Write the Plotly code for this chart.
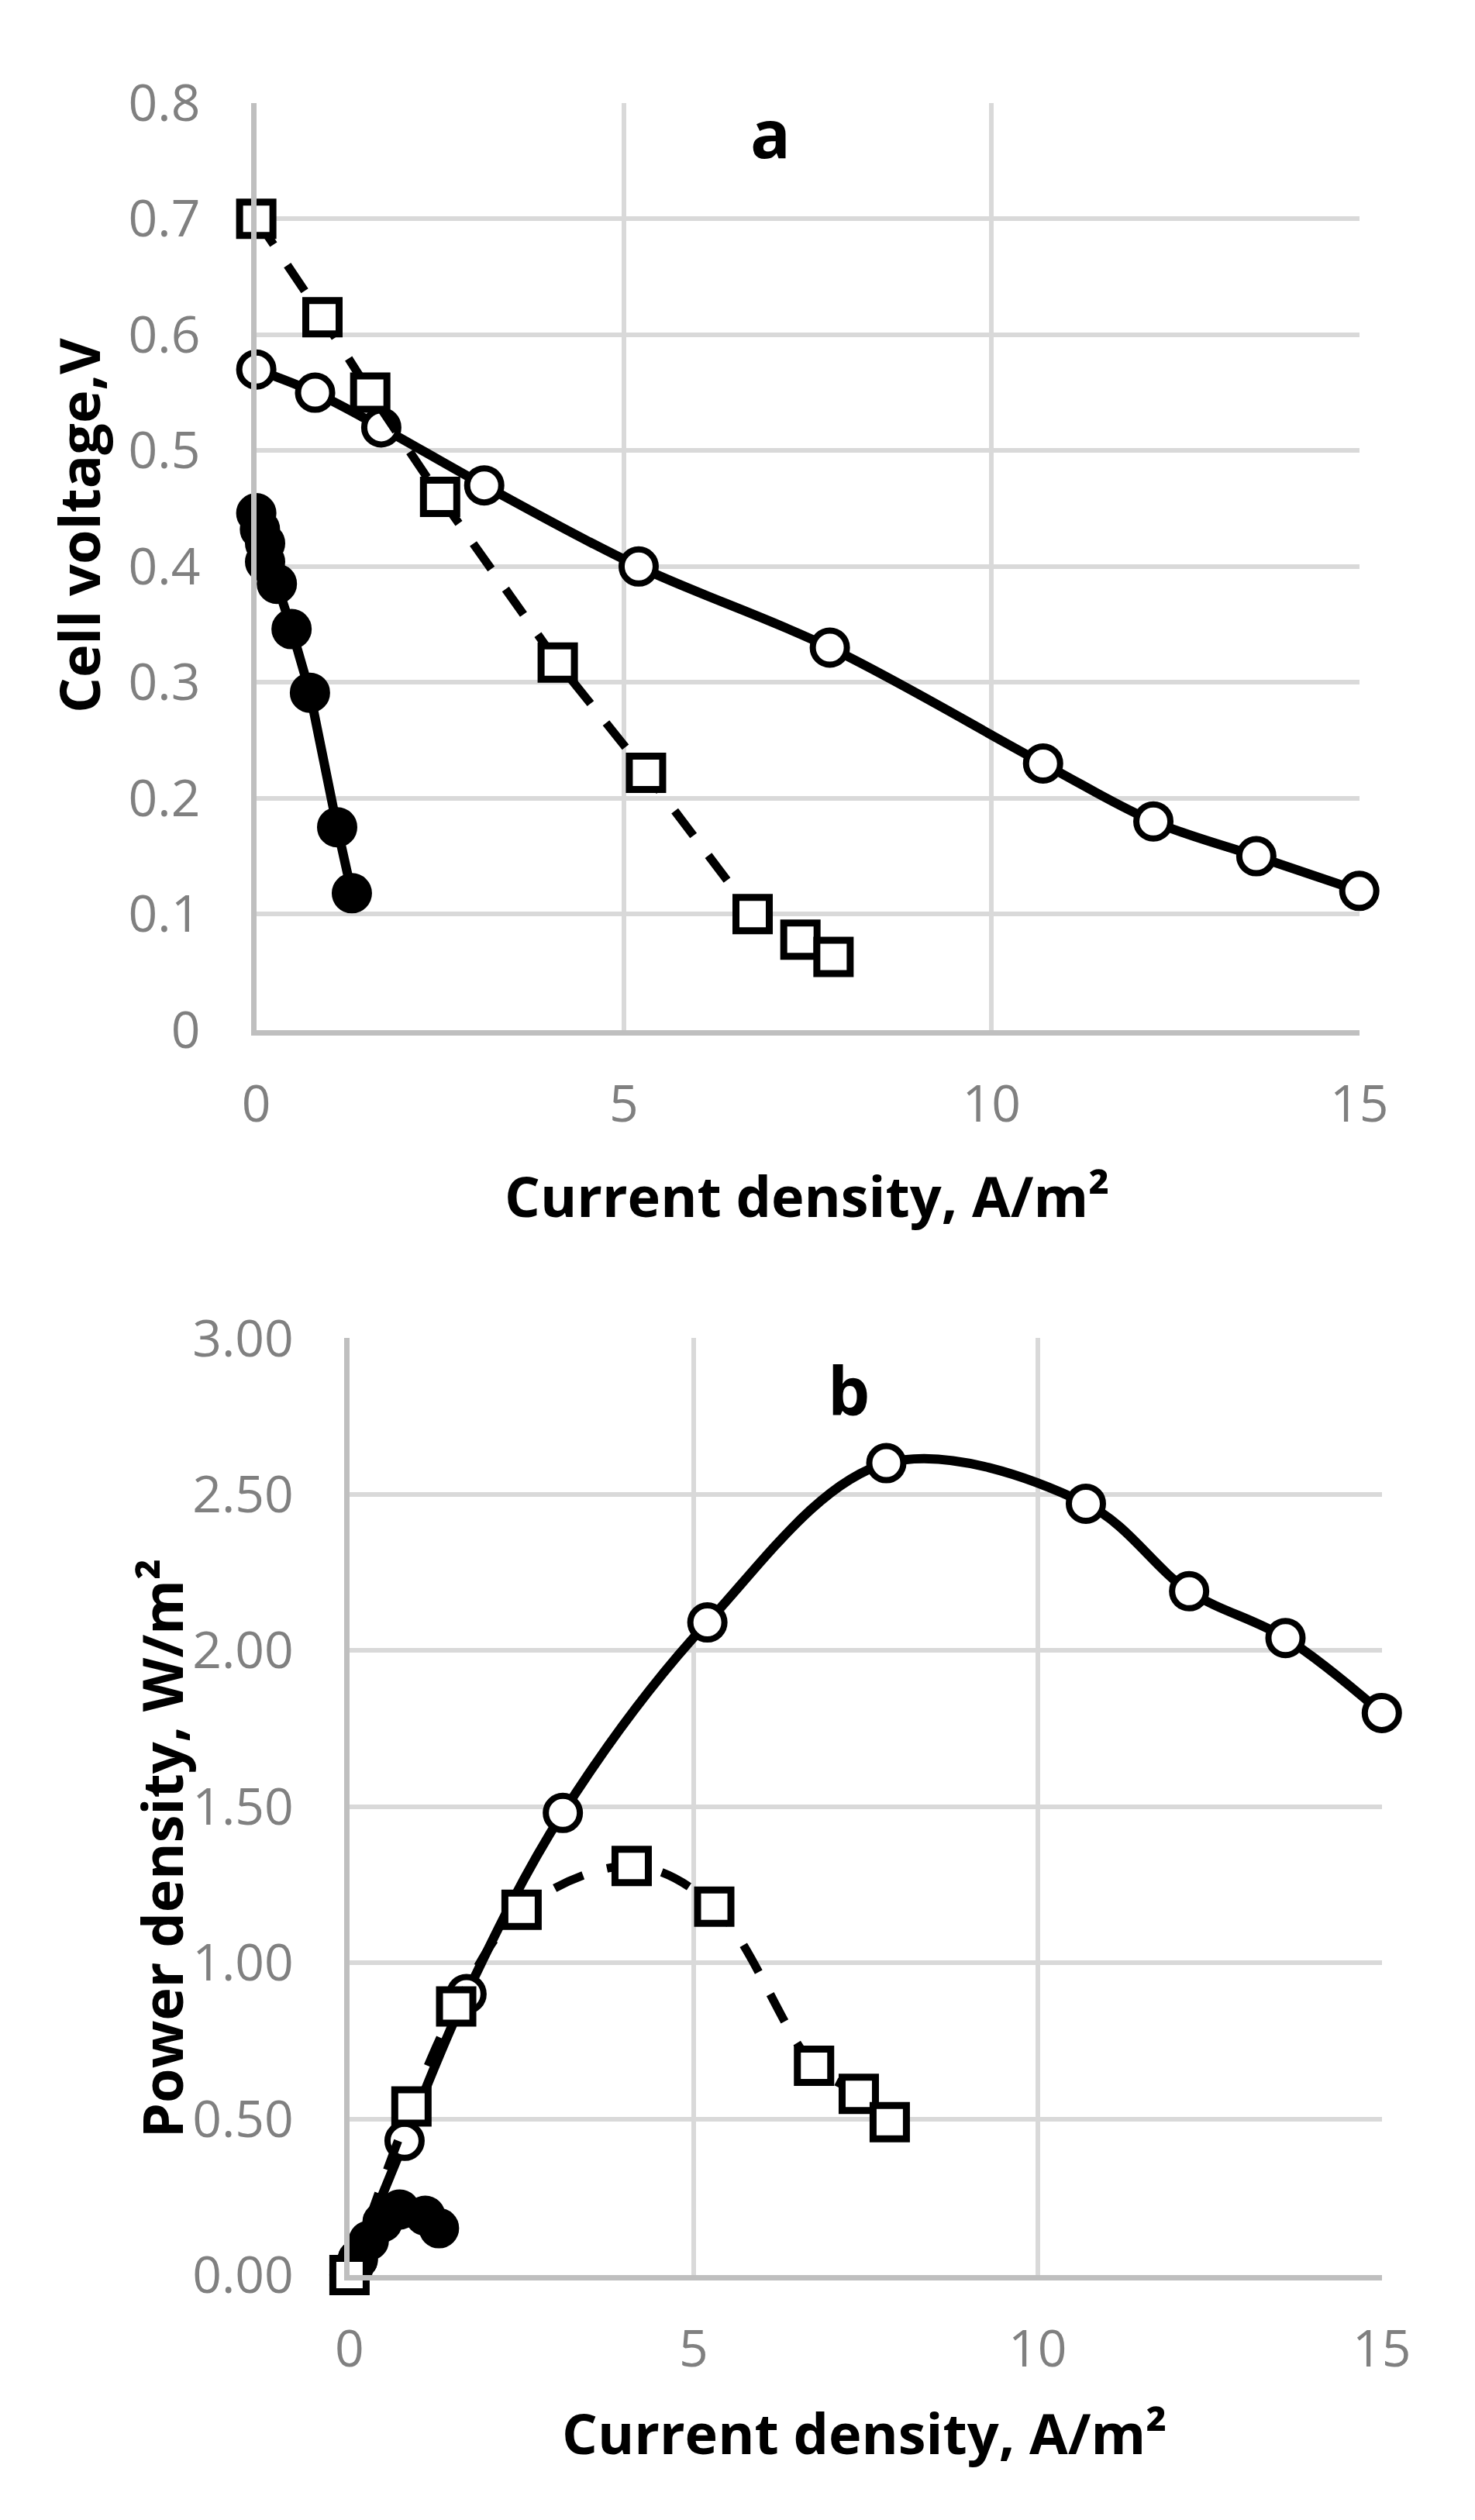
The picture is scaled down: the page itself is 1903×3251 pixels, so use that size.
import plotly.graph_objects as go

# ---- data ----
# Panel a: cell voltage vs current density
a_circ_x = [0.0, 0.8, 1.7, 3.1, 5.2, 7.8, 10.7, 12.2, 13.6, 15.0]
a_circ_y = [0.57, 0.55, 0.52, 0.47, 0.40, 0.33, 0.23, 0.18, 0.15, 0.12]
a_sq_x = [0.0, 0.9, 1.55, 2.5, 4.1, 5.3, 6.75, 7.4, 7.85]
a_sq_y = [0.70, 0.615, 0.55, 0.46, 0.317, 0.222, 0.10, 0.078, 0.063]
a_fill_x = [0.0, 0.05, 0.12, 0.12, 0.28, 0.48, 0.73, 1.1, 1.3]
a_fill_y = [0.446, 0.432, 0.420, 0.404, 0.385, 0.346, 0.291, 0.175, 0.118]

# Panel b: power density vs current density
b_circ_x = [0.0, 0.8, 1.7, 3.1, 5.2, 7.8, 10.7, 12.2, 13.6, 15.0]
b_circ_y = [0.0, 0.43, 0.90, 1.48, 2.09, 2.60, 2.47, 2.19, 2.04, 1.80]
b_sq_x = [0.0, 0.9, 1.55, 2.5, 4.1, 5.3, 6.75, 7.4, 7.85]
b_sq_y = [0.0, 0.54, 0.86, 1.17, 1.31, 1.18, 0.67, 0.58, 0.49]
b_fill_x = [0.0, 0.05, 0.12, 0.12, 0.28, 0.48, 0.73, 1.1, 1.3]
b_fill_y = [0.0, 0.02, 0.05, 0.05, 0.11, 0.17, 0.21, 0.19, 0.15]

x_ticks = [0, 5, 10, 15]
a_y_ticks = [0, 0.1, 0.2, 0.3, 0.4, 0.5, 0.6, 0.7, 0.8]
b_y_ticks = [0, 0.5, 1.0, 1.5, 2.0, 2.5, 3.0]

W, H = 1903, 3251
FONT = "Open Sans"
TICKC = "#808080"

fig = go.Figure()

def add_series(x, y, xa, ya, symbol, fill, dash, shape, lw, msize, mlw):
    fig.add_trace(go.Scatter(
        x=x, y=y, xaxis=xa, yaxis=ya, mode="lines+markers",
        line=dict(color="black", width=lw, dash=dash, shape=shape, smoothing=1.0),
        marker=dict(symbol=symbol, size=msize, color=fill,
                    line=dict(color="black", width=mlw)),
        cliponaxis=False, showlegend=False, hoverinfo="x+y"))

# panel a
add_series(a_circ_x, a_circ_y, "x", "y", "circle", "white", "solid", "spline", 12, 44, 8)
add_series(a_fill_x, a_fill_y, "x", "y", "circle", "black", "solid", "linear", 12, 46, 6)
add_series(a_sq_x, a_sq_y, "x", "y", "square", "white", "40px,32px", "linear", 11, 43, 9)
# panel b
add_series(b_circ_x, b_circ_y, "x2", "y2", "circle", "white", "solid", "spline", 12, 44, 8)
add_series(b_fill_x, b_fill_y, "x2", "y2", "circle", "black", "solid", "linear", 12, 46, 6)
add_series(b_sq_x, b_sq_y, "x2", "y2", "square", "white", "40px,32px", "spline", 11, 43, 9)

def px(v):
    return v / W

def py(v):
    return 1 - v / H

axis_common = dict(showgrid=True, gridcolor="#D9D9D9", gridwidth=6,
                   showline=True, linecolor="#BFBFBF", linewidth=7,
                   zeroline=False, ticks="",
                   tickfont=dict(family=FONT, size=66, color=TICKC))

fig.update_layout(
    width=W, height=H, autosize=False,
    margin=dict(l=0, r=0, t=0, b=0),
    paper_bgcolor="white", plot_bgcolor="white",
    xaxis=dict(domain=[px(313), px(1780)], range=[0, 15], anchor="y",
               tickvals=x_ticks, ticklabelstandoff=32, **axis_common),
    yaxis=dict(domain=[py(1309), py(79)], range=[0, 0.8], anchor="x",
               tickvals=a_y_ticks, ticklabelstandoff=52, **axis_common),
    xaxis2=dict(domain=[px(437), px(1810)], range=[0, 15], anchor="y2",
                tickvals=x_ticks, ticklabelstandoff=32, **axis_common),
    yaxis2=dict(domain=[py(2961), py(1718)], range=[0, 3.0], anchor="x2",
                tickvals=b_y_ticks, tickformat=".2f", ticklabelstandoff=52,
                **axis_common),
)

title_font = dict(family=FONT, size=72, color="black", weight="bold")
label_font = dict(family=FONT, size=86, color="black", weight="bold")

annotations = [
    dict(text="Current density, A/m²", x=px(1045), y=py(1528), font=title_font),
    dict(text="Cell voltage,V", x=px(77), y=py(640), font=title_font, textangle=-90),
    dict(text="Current density, A/m²", x=px(1122), y=py(3170), font=title_font),
    dict(text="Power density, W/m²", x=px(186), y=py(2395), font=title_font, textangle=-90),
    dict(text="a", x=px(997), y=py(118), font=label_font),
    dict(text="b", x=px(1101), y=py(1786), font=label_font),
]
for a in annotations:
    a.update(xref="paper", yref="paper", showarrow=False, xanchor="center", yanchor="middle")
fig.update_layout(annotations=annotations)

fig.write_html("out.html")
